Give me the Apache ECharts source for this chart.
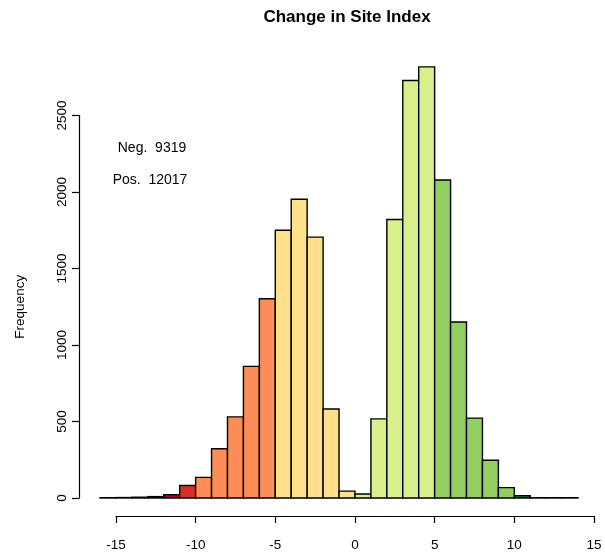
<!DOCTYPE html>
<html>
<head>
<meta charset="utf-8">
<script src="https://cdn.jsdelivr.net/npm/echarts@6/dist/echarts.min.js"></script>
<style>html,body{margin:0;padding:0;background:#fff}#c{width:605px;height:556px}</style>
</head>
<body>
<div id="c"></div>
<script>
const binStarts = [-16,-15,-14,-13,-12,-11,-10,-9,-8,-7,-6,-5,-4,-3,-2,-1,0,1,2,3,4,5,6,7,8,9,10,11,12,13];
const binWidth = 1;
const counts = [2,3,5,9,22,82,135,322,530,860,1302,1750,1953,1705,582,45,26,517,1820,2729,2818,2078,1150,522,247,68,15,2,2,2];
const xTicks = [-15,-10,-5,0,5,10,15];
const yTicks = [0,500,1000,1500,2000,2500];
const titleText = 'Change in Site Index';
const yName = 'Frequency';
const negLabel = 'Neg.  9319';
const posLabel = 'Pos.  12017';

function binColor(s){
  if (s < -11) return '#a50026';
  if (s < -10) return '#d73027';
  if (s < -5) return '#fc8d59';
  if (s < 0) return '#fee08b';
  if (s < 5) return '#d9ef8b';
  if (s < 10) return '#91cf60';
  if (s < 11) return '#1a9850';
  return '#006837';
}

const data = binStarts.map((s,i)=>[s, s+binWidth, counts[i]]);
const FONT = 'Liberation Sans, Arial, Helvetica, sans-serif';

const chart = echarts.init(document.getElementById('c'), null, {renderer:'canvas'});
chart.setOption({
  animation:false,
  backgroundColor:'#fff',
  grid:[
    {left:100, right:11, top:115.5, bottom:58},
    {left:116, right:11, top:506, height:10}
  ],
  xAxis:[
    {gridIndex:0, type:'value', min:-16, max:15, show:false},
    {gridIndex:1, type:'value', min:xTicks[0], max:xTicks[xTicks.length-1], interval:5,
     axisLine:{show:true, onZero:false, lineStyle:{color:'#000', width:1.2}},
     axisTick:{show:true, length:7, lineStyle:{color:'#000', width:1.2}},
     axisLabel:{color:'#000', fontSize:13.5, fontFamily:FONT, margin:22, showMinLabel:true, showMaxLabel:true,
       formatter:function(v){return String(v);}},
     splitLine:{show:false}}
  ],
  yAxis:[
    {gridIndex:0, type:'value', min:yTicks[0], max:yTicks[yTicks.length-1], interval:500, offset:21,
     name:yName, nameLocation:'middle', nameGap:52, nameRotate:90,
     nameTextStyle:{color:'#000', fontSize:13.5, fontFamily:FONT},
     axisLine:{show:true, onZero:false, lineStyle:{color:'#000', width:1.2}},
     axisTick:{show:true, length:7, lineStyle:{color:'#000', width:1.2}},
     axisLabel:{color:'#000', fontSize:13.5, fontFamily:FONT, rotate:90, margin:10, showMinLabel:true, showMaxLabel:true,
       formatter:function(v){return String(v);}},
     splitLine:{show:false}},
    {gridIndex:1, type:'value', show:false}
  ],
  series:[{
    type:'custom', xAxisIndex:0, yAxisIndex:0, clip:false,
    data:data,
    encode:{x:[0,1], y:2},
    renderItem:function(params, api){
      const x0 = api.value(0), x1 = api.value(1), y = api.value(2);
      const p0 = api.coord([x0, 0]);
      const p1 = api.coord([x1, y]);
      return {type:'rect',
        shape:{x:p0[0], y:p1[1], width:p1[0]-p0[0], height:p0[1]-p1[1]},
        style:{fill:binColor(x0), stroke:'#000', lineWidth:1.4}};
    }
  }],
  graphic:[
    {type:'text', x:347, y:17, style:{text:titleText, font:'bold 17px '+FONT, fill:'#000', textAlign:'center', textVerticalAlign:'middle'}},
    {type:'text', x:152, y:148, style:{text:negLabel, font:'14px '+FONT, fill:'#000', textAlign:'center', textVerticalAlign:'middle'}},
    {type:'text', x:150, y:180, style:{text:posLabel, font:'14px '+FONT, fill:'#000', textAlign:'center', textVerticalAlign:'middle'}}
  ]
});
</script>
</body>
</html>
